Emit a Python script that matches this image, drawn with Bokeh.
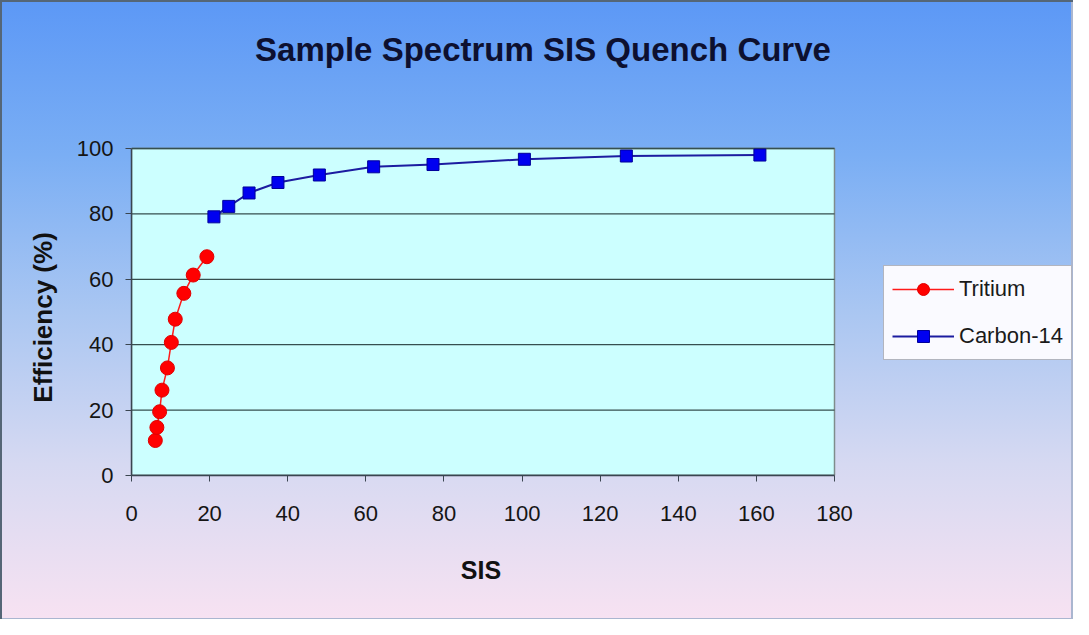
from bokeh.plotting import figure
from bokeh.models import Legend, LegendItem, Range1d, FixedTicker, Label
from bokeh.embed import file_html
from bokeh.resources import INLINE

# ---- data ----
tritium_sis = [6.1, 6.5, 7.2, 7.8, 9.2, 10.2, 11.2, 13.4, 15.8, 19.3]
tritium_eff = [10.7, 14.7, 19.5, 26.1, 32.9, 40.7, 47.8, 55.7, 61.3, 66.9]
c14_sis = [21.1, 24.9, 30.1, 37.5, 48.1, 62.0, 77.2, 100.6, 126.7, 160.9]
c14_eff = [79.1, 82.3, 86.4, 89.6, 91.9, 94.4, 95.1, 96.7, 97.7, 98.0]
x_ticks = [0, 20, 40, 60, 80, 100, 120, 140, 160, 180]
y_ticks = [0, 20, 40, 60, 80, 100]
title_text = "Sample Spectrum SIS Quench Curve"
x_label = "SIS"
y_label = "Efficiency (%)"
series_names = ["Tritium", "Carbon-14"]

FONT = "Liberation Sans"
NBSP = "\u00a0"

# ---- layout (pixels) ----
W, H = 1073, 619
LEFT, BOTTOM = 131, 144
AREA_W, AREA_H = 703, 327          # plot-area size in pixels
FRAME_W, FRAME_H = W - LEFT, H - BOTTOM
x0, x1 = x_ticks[0], x_ticks[-1]
y0, y1 = y_ticks[0], y_ticks[-1]
x_end = x0 + (x1 - x0) * FRAME_W / AREA_W
y_end = y0 + (y1 - y0) * FRAME_H / AREA_H
px_x = (x1 - x0) / AREA_W
px_y = (y1 - y0) / AREA_H

p = figure(
    width=W, height=H,
    x_range=Range1d(x0, x_end), y_range=Range1d(y0, y_end),
    output_backend="svg", toolbar_location=None,
    min_border_left=LEFT, min_border_right=0,
    min_border_top=0, min_border_bottom=BOTTOM,
)

p.styles = {
    "background": "linear-gradient(to bottom, #5c98f6 0%, #7aaef4 25%, #a9c6f2 50%, #d6d9f2 75%, #f7e2f2 100%)",
    "box-shadow": "inset 2px 2px 0 #556677, inset -2px -1px 0 #aab6d0",
}
p.border_fill_alpha = 0
p.background_fill_alpha = 0
p.outline_line_color = None
p.grid.visible = False

# plot area
p.quad(left=[x0], right=[x1], bottom=[y0], top=[y1],
       fill_color="#ccffff", line_color="#7f8c8c", line_width=1.5)
# horizontal gridlines at the y ticks
p.segment(x0=[x0] * len(y_ticks), x1=[x1] * len(y_ticks), y0=y_ticks, y1=y_ticks,
          line_color="#364f4f", line_width=1.3)

# axes
for ax in (p.xaxis[0], p.yaxis[0]):
    ax.axis_line_color = "#3a4550"
    ax.axis_line_width = 1.5
    ax.major_tick_line_color = "#3a4550"
    ax.major_tick_out = 6
    ax.major_tick_in = 0
    ax.minor_tick_line_color = None
    ax.major_label_text_font = FONT
    ax.major_label_text_font_size = "22px"
    ax.major_label_text_color = "#151515"
    ax.axis_label_text_font = FONT
    ax.axis_label_text_font_style = "bold"
    ax.axis_label_text_color = "#111111"

p.xaxis.axis_label_text_font_size = "25px"
p.yaxis.axis_label_text_font_size = "26px"
p.xaxis.bounds = (x0, x1)
p.yaxis.bounds = (y0, y1)
p.xaxis.ticker = FixedTicker(ticks=x_ticks)
p.yaxis.ticker = FixedTicker(ticks=y_ticks)
# axis titles are centred on the whole frame; trailing no-break spaces
# move the visible words back to the centre of the plot area
p.xaxis.axis_label = x_label + NBSP * 35
p.yaxis.axis_label = y_label + NBSP * 22
p.xaxis.major_label_standoff = 24
p.yaxis.major_label_standoff = 12
p.xaxis.axis_label_standoff = 32
p.yaxis.axis_label_standoff = 16

# series
r_line1 = p.line(tritium_sis, tritium_eff, line_color="#ff1a1a", line_width=1.5)
r_pts1 = p.scatter(tritium_sis, tritium_eff, marker="circle", size=14,
                   fill_color="#ff0000", line_color="#e00000")
r_line2 = p.line(c14_sis, c14_eff, line_color="#1c1ca0", line_width=2)
r_pts2 = p.scatter(c14_sis, c14_eff, marker="square", size=12,
                   fill_color="#0000f0", line_color="#00009a")

legend = Legend(
    items=[LegendItem(label=series_names[0], renderers=[r_line1, r_pts1]),
           LegendItem(label=series_names[1], renderers=[r_line2, r_pts2])],
    location=(752, 115),
    margin=0, padding=8,
    glyph_width=62, glyph_height=30, label_height=30,
    label_standoff=5, spacing=17,
    label_text_font=FONT, label_text_font_size="22px", label_text_color="#1a1a1a",
    background_fill_color="#fafaff", background_fill_alpha=1,
    border_line_color="#6a7080", border_line_width=1.5,
)
p.add_layout(legend)

# title, centred on the whole chart, 49 px below its top edge
title = Label(x=x0 + (W / 2 + 6 - LEFT) * px_x, y=y0 + (FRAME_H - 49) * px_y,
              text=title_text, text_align="center", text_baseline="middle",
              text_font=FONT, text_font_size="33px", text_font_style="bold",
              text_color="#0d1030")
p.add_layout(title)

open("out.html", "w").write(file_html(p, INLINE))
